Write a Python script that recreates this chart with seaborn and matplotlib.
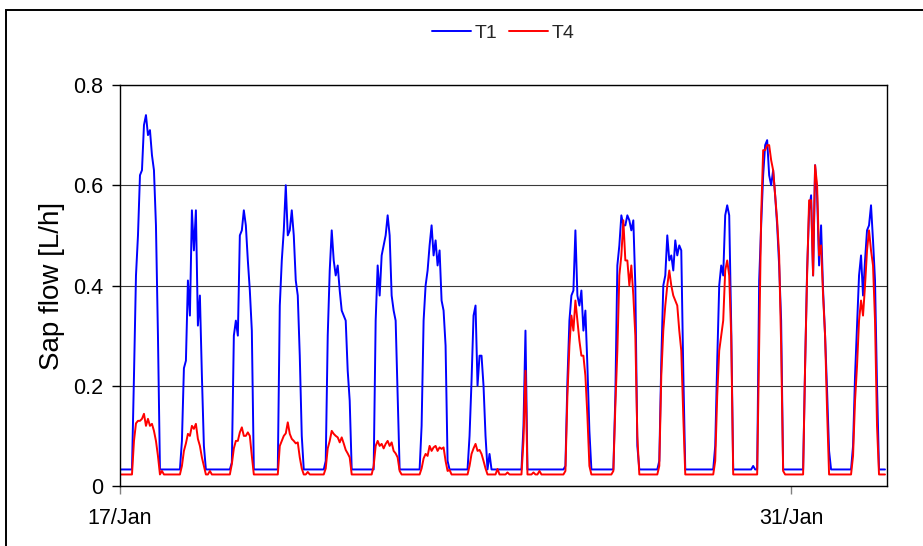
import numpy as np
import pandas as pd
import matplotlib
matplotlib.use("Agg")
import matplotlib.pyplot as plt
import seaborn as sns
from matplotlib.patches import Rectangle

# ---------------- data (hourly) ----------------
start_date = "2009-01-17"
end_date = "2009-02-02"
n_days = 16
day_hours = list(range(6, 21))          # hours covered by the daytime lists
series_names = ["T1", "T4"]
xtick_dates = ["2009-01-17", "2009-01-31"]
xtick_labels = ["17/Jan", "31/Jan"]
ytick_values = [0, 0.2, 0.4, 0.6, 0.8]
ytick_labels = ["0", "0.2", "0.4", "0.6", "0.8"]

t1_night = 0.033
t4_night = 0.023

t1_day = [
    [.033, .22, .42, .50, .62, .63, .72, .74, .70, .71, .66, .63, .52, .30, .033],
    [.033, .09, .235, .25, .41, .34, .55, .47, .55, .32, .38, .22, .08, .033, .033],
    [.033, .033, .047, .30, .33, .30, .50, .51, .55, .52, .45, .39, .31, .033, .033],
    [.033, .033, .36, .45, .51, .60, .50, .51, .55, .50, .41, .38, .26, .10, .033],
    [.033, .05, .30, .43, .51, .45, .42, .44, .39, .35, .34, .33, .23, .17, .033],
    [.033, .033, .33, .44, .38, .46, .48, .50, .54, .50, .38, .35, .33, .18, .033],
    [.033, .12, .33, .40, .43, .48, .52, .46, .49, .44, .47, .37, .35, .28, .05],
    [.033, .10, .21, .34, .36, .20, .26, .26, .20, .10, .033, .064, .033, .033, .033],
    [.033, .033, .033, .033, .12, .31, .033, .033, .033, .033, .033, .033, .033, .033, .033],
    [.033, .04, .21, .33, .38, .39, .51, .38, .36, .39, .31, .35, .24, .11, .033],
    [.033, .033, .18, .44, .48, .54, .52, .52, .54, .53, .51, .53, .40, .08, .033],
    [.05, .25, .40, .42, .50, .45, .46, .43, .49, .46, .48, .47, .23, .033, .033],
    [.033, .033, .033, .033, .08, .25, .40, .44, .42, .54, .56, .54, .32, .033, .033],
    [.033, .033, .41, .52, .62, .68, .69, .62, .60, .63, .58, .52, .44, .33, .033],
    [.033, .24, .43, .55, .58, .42, .64, .58, .44, .52, .39, .30, .19, .07, .033],
    [.033, .08, .22, .32, .42, .46, .38, .45, .51, .52, .56, .49, .41, .20, .033],
]

t4_day = [
    [.023, .09, .125, .13, .13, .134, .144, .12, .134, .12, .124, .11, .09, .06, .023],
    [.023, .04, .07, .085, .104, .10, .12, .114, .124, .094, .08, .057, .04, .023, .023],
    [.023, .023, .044, .075, .09, .09, .107, .117, .10, .10, .107, .10, .06, .023, .023],
    [.023, .023, .08, .09, .10, .105, .127, .104, .094, .09, .085, .087, .057, .035, .023],
    [.023, .035, .075, .09, .11, .104, .10, .097, .087, .097, .085, .072, .065, .057, .023],
    [.023, .04, .08, .09, .08, .084, .075, .084, .09, .08, .087, .07, .065, .057, .03],
    [.023, .035, .055, .064, .06, .08, .07, .077, .08, .07, .077, .074, .077, .05, .03],
    [.023, .04, .064, .075, .084, .07, .072, .064, .05, .035, .023, .023, .023, .023, .023],
    [.023, .023, .023, .023, .09, .23, .023, .023, .023, .027, .023, .023, .03, .023, .023],
    [.023, .03, .18, .28, .34, .31, .37, .33, .29, .26, .26, .22, .14, .04, .023],
    [.023, .03, .16, .27, .42, .46, .53, .45, .45, .40, .44, .38, .30, .10, .023],
    [.04, .22, .31, .36, .40, .43, .40, .38, .37, .36, .31, .27, .14, .023, .023],
    [.023, .023, .023, .023, .05, .18, .27, .30, .33, .43, .45, .42, .30, .023, .023],
    [.023, .023, .28, .54, .67, .67, .68, .68, .65, .63, .58, .53, .46, .28, .03],
    [.023, .24, .42, .57, .57, .42, .64, .60, .46, .48, .38, .30, .15, .023, .023],
    [.023, .06, .17, .24, .33, .37, .34, .40, .47, .51, .47, .44, .33, .12, .023],
]

# (day, hour, value) small night-time readings
t1_night_bumps = [(13, 5, 0.04)]
t4_night_bumps = [(0, 21, 0.03), (1, 21, 0.03), (3, 22, 0.028), (6, 21, 0.032),
                  (7, 21, 0.034), (8, 2, 0.027)]


def build(day_lists, night, bumps):
    vals = []
    for lst in day_lists:
        for h in range(24):
            vals.append(lst[h - day_hours[0]] if h in day_hours else night)
    for d, h, v in bumps:
        vals[d * 24 + h] = v
    return vals


times = pd.date_range(start_date, periods=n_days * 24, freq="h")
t1 = build(t1_day, t1_night, t1_night_bumps)
t4 = build(t4_day, t4_night, t4_night_bumps)
df = pd.DataFrame({
    "time": list(times) * 2,
    "flow": t1 + t4,
    "series": [series_names[0]] * len(t1) + [series_names[1]] * len(t4),
})

# ---------------- plot ----------------
sns.set_theme(style="white")
plt.rcParams["font.family"] = ["Liberation Sans", "DejaVu Sans"]

W, H = 923, 546
fig = plt.figure(figsize=(W / 100, H / 100), dpi=100)
ax = fig.add_axes([120 / W, 60 / H, 767 / W, 401 / H])

sns.lineplot(data=df, x="time", y="flow", hue="series",
             palette={"T1": "#0000FF", "T4": "#FF0000"},
             linewidth=1.4, estimator=None, ax=ax)

ax.set_xlim(pd.Timestamp(start_date), pd.Timestamp(end_date))
ax.set_ylim(0, 0.8)
ax.set_yticks(ytick_values)
ax.set_yticklabels(ytick_labels)
ax.set_xticks([pd.Timestamp(d) for d in xtick_dates])
ax.set_xticklabels(xtick_labels)

ax.yaxis.grid(True, color="#3a3a3a", linewidth=0.8)
ax.xaxis.grid(False)
ax.set_axisbelow(True)
for s in ax.spines.values():
    s.set_color("black")
    s.set_linewidth(1.0)

ax.tick_params(axis="y", left=True, direction="out", length=6, width=1,
               color="black", pad=6, labelsize=15.5, labelcolor="black")
ax.tick_params(axis="x", bottom=True, direction="out", length=6, width=1,
               color="#808080", pad=10, labelsize=15.5, labelcolor="black")

ax.set_xlabel("")
ax.set_ylabel("Sap flow [L/h]", fontsize=20, color="black")
ax.yaxis.set_label_coords(-0.072, 0.5)

sns.move_legend(ax, loc="center", bbox_to_anchor=(0.5, 1.13), ncol=2,
                frameon=False, title=None, fontsize=14, handlelength=2.0,
                handletextpad=0.2, columnspacing=0.6)

fig.add_artist(Rectangle((5.5 / W, -0.1), 1.2, (H - 9.5) / H + 0.1,
                         transform=fig.transFigure, fill=False,
                         edgecolor="black", linewidth=1.4, clip_on=False))

fig.savefig("out.png", dpi=100, facecolor="white")
